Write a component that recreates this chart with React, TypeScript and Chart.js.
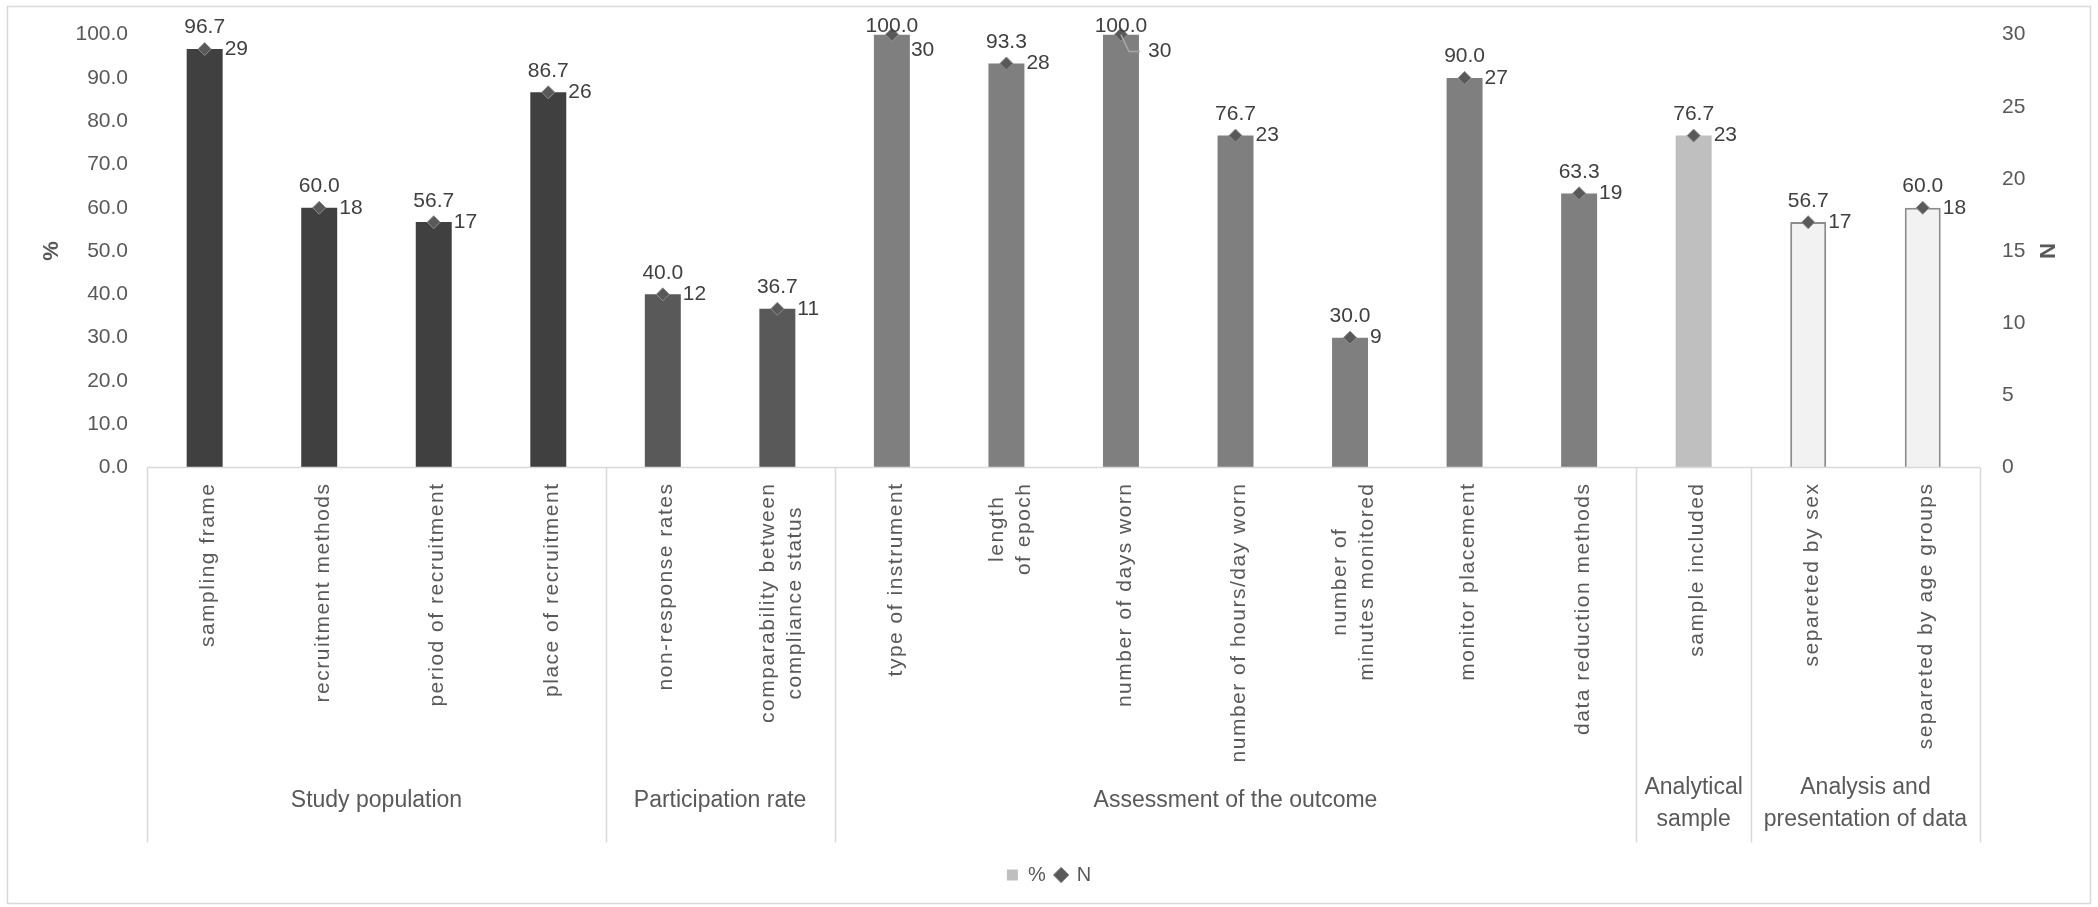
import { useEffect, useRef } from "react";
import { Chart, registerables } from "chart.js";

Chart.register(...registerables);

// ---- data ----
const groups = [
  "Study population",
  "Participation rate",
  "Assessment of the outcome",
  "Analytical\nsample",
  "Analysis and\npresentation of data",
];
const groupSizes = [4, 2, 7, 1, 2];

const categories = [
  "sampling frame",
  "recruitment methods",
  "period of recruitment",
  "place of recruitment",
  "non-response rates",
  "comparability between\ncompliance status",
  "type of instrument",
  "length\nof epoch",
  "number of days worn",
  "number of hours/day worn",
  "number of\nminutes monitored",
  "monitor placement",
  "data reduction methods",
  "sample included",
  "separeted by sex",
  "separeted by age groups",
];

const percentValues = [96.7, 60.0, 56.7, 86.7, 40.0, 36.7, 100.0, 93.3, 100.0, 76.7, 30.0, 90.0, 63.3, 76.7, 56.7, 60.0];
const nValues = [29, 18, 17, 26, 12, 11, 30, 28, 30, 23, 9, 27, 19, 23, 17, 18];

const percentTicks = [0, 10, 20, 30, 40, 50, 60, 70, 80, 90, 100];
const nTicks = [0, 5, 10, 15, 20, 25, 30];

// ---- styling ----
const FONT = "'Liberation Sans', Arial, sans-serif";
const TEXT = "#595959";
const LABEL = "#404040";
const LINE = "#d9d9d9";
const groupFill = ["#404040", "#595959", "#7f7f7f", "#bfbfbf", "#f2f2f2"];
const groupBorder = ["#404040", "#595959", "#7f7f7f", "#bfbfbf", "#8c8c8c"];
const groupBorderWidth = [0, 0, 0, 0, 2];

// group index of every category
const groupOf: number[] = [];
groupSizes.forEach((n, g) => {
  for (let k = 0; k < n; k++) groupOf.push(g);
});

// N labels that sit away from their default spot: [dx, dy, leader line]
const nLabelShift: Record<number, [number, number, boolean]> = {
  6: [19, 16, false],
  8: [27, 17, true],
};

const decorPlugin = {
  id: "decor",
  afterDatasetsDraw(chart: any) {
    const { ctx } = chart;
    const bars = chart.getDatasetMeta(0).data;
    const pts = chart.getDatasetMeta(1).data;
    ctx.save();
    ctx.font = `21px ${FONT}`;
    ctx.fillStyle = LABEL;

    // % labels above bars
    ctx.textAlign = "center";
    ctx.textBaseline = "alphabetic";
    percentValues.forEach((v, i) => {
      const b = bars[i];
      ctx.fillText(v.toFixed(1), b.x, Math.max(b.y - 15.5, 31.5));
    });

    // N labels to the right of the diamonds
    ctx.textAlign = "left";
    ctx.textBaseline = "middle";
    nValues.forEach((v, i) => {
      const p = pts[i];
      const [dx, dy, leader] = nLabelShift[i] ?? [20, 0, false];
      if (leader) {
        ctx.beginPath();
        ctx.strokeStyle = "#a6a6a6";
        ctx.lineWidth = 1.5;
        ctx.moveTo(p.x, p.y);
        ctx.lineTo(p.x + 8, p.y + dy);
        ctx.lineTo(p.x + dx - 8, p.y + dy);
        ctx.stroke();
      }
      ctx.fillText(String(v), p.x + dx, p.y + dy);
    });
    ctx.restore();
  },
  afterDraw(chart: any) {
    const { ctx, chartArea, width, height } = chart;
    const n = categories.length;
    const w = (chartArea.right - chartArea.left) / n;
    const axisY = chartArea.bottom;
    const boxBottom = axisY + 375;

    ctx.save();
    ctx.strokeStyle = LINE;
    ctx.lineWidth = 1.5;

    // category axis line
    ctx.beginPath();
    ctx.moveTo(chartArea.left, axisY);
    ctx.lineTo(chartArea.right, axisY);
    ctx.stroke();

    // group separators
    let k = 0;
    const bounds = [0];
    groupSizes.forEach((s) => {
      k += s;
      bounds.push(k);
    });
    bounds.forEach((b) => {
      const x = Math.round(chartArea.left + b * w) + 0.5;
      ctx.beginPath();
      ctx.moveTo(x, axisY);
      ctx.lineTo(x, boxBottom);
      ctx.stroke();
    });

    // rotated category labels
    ctx.fillStyle = TEXT;
    ctx.font = `21px ${FONT}`;
    (ctx as any).letterSpacing = "1.5px";
    categories.forEach((label, i) => {
      const cx = chartArea.left + (i + 0.5) * w;
      const lines = label.split("\n");
      const maxW = Math.max(...lines.map((l) => ctx.measureText(l).width));
      const cy = axisY + 15 + maxW / 2;
      lines.forEach((line, j) => {
        const bx = cx + 4.3 + (j - (lines.length - 1) / 2) * 27 + 5.35;
        ctx.save();
        ctx.translate(bx, cy);
        ctx.rotate(-Math.PI / 2);
        ctx.textAlign = "center";
        ctx.textBaseline = "alphabetic";
        ctx.fillText(line, 0, 0);
        ctx.restore();
      });
    });
    (ctx as any).letterSpacing = "0px";

    // group labels
    ctx.font = `23px ${FONT}`;
    ctx.textAlign = "center";
    ctx.textBaseline = "middle";
    groups.forEach((g, gi) => {
      const x0 = chartArea.left + bounds[gi] * w;
      const x1 = chartArea.left + bounds[gi + 1] * w;
      const lines = g.split("\n");
      const mid = lines.length > 1 ? axisY + 336 : axisY + 333;
      lines.forEach((line, j) => {
        const y = mid + (j - (lines.length - 1) / 2) * 32;
        ctx.fillText(line, (x0 + x1) / 2, y);
      });
    });

    // chart frame
    ctx.strokeStyle = LINE;
    ctx.lineWidth = 1.5;
    ctx.strokeRect(7.5, 6.5, width - 15, height - 10);
    ctx.restore();
  },
};

export default function App() {
  const ref = useRef<HTMLCanvasElement>(null);

  useEffect(() => {
    if (!ref.current) return;
    Chart.defaults.font.family = FONT;
    Chart.defaults.color = TEXT;

    const chart = new Chart(ref.current, {
      type: "bar",
      data: {
        labels: categories,
        datasets: [
          {
            type: "bar",
            label: "%",
            data: percentValues,
            yAxisID: "y",
            order: 2,
            backgroundColor: groupOf.map((g) => groupFill[g]),
            borderColor: groupOf.map((g) => groupBorder[g]),
            borderWidth: groupOf.map((g) => groupBorderWidth[g]),
            barPercentage: 0.314,
            categoryPercentage: 1,
          },
          {
            type: "line",
            label: "N",
            data: nValues,
            yAxisID: "y2",
            order: 1,
            showLine: false,
            clip: false,
            pointStyle: "rectRot",
            pointRadius: 6.5,
            pointBackgroundColor: "#595959",
            pointBorderColor: "#8c8c8c",
            pointBorderWidth: 1,
          },
        ],
      } as any,
      options: {
        responsive: false,
        animation: false,
        layout: { padding: { top: 34, bottom: 12, left: 0, right: 0 } },
        scales: {
          x: {
            type: "category",
            offset: true,
            grid: { display: false, drawTicks: false },
            border: { display: false },
            ticks: { display: false },
            afterFit: (s: any) => {
              s.height = 387.5;
            },
          },
          y: {
            position: "left",
            min: 0,
            max: 100,
            grid: { display: false, drawTicks: false },
            border: { display: false },
            afterBuildTicks: (s: any) => {
              s.ticks = percentTicks.map((v) => ({ value: v }));
            },
            ticks: {
              padding: 19.4,
              font: { size: 21 },
              color: TEXT,
              callback: (v: any) => Number(v).toFixed(1),
            },
            title: {
              display: true,
              text: "%",
              color: TEXT,
              font: { size: 22, weight: "bold" },
              padding: { top: 38.8, bottom: 0 },
            },
            afterFit: (s: any) => {
              s.width = 147.4;
            },
          },
          y2: {
            position: "right",
            min: 0,
            max: 30,
            grid: { display: false, drawTicks: false },
            border: { display: false },
            afterBuildTicks: (s: any) => {
              s.ticks = nTicks.map((v) => ({ value: v }));
            },
            ticks: {
              padding: 22,
              font: { size: 21 },
              color: TEXT,
              callback: (v: any) => String(v),
            },
            title: {
              display: true,
              text: "N",
              color: TEXT,
              font: { size: 22, weight: "bold" },
              padding: { top: 38.8, bottom: 0 },
            },
            afterFit: (s: any) => {
              s.width = 118;
            },
          },
        },
        plugins: {
          tooltip: { enabled: false },
          legend: {
            display: true,
            position: "bottom",
            labels: {
              usePointStyle: true,
              boxWidth: 11,
              boxHeight: 11,
              padding: 10,
              color: TEXT,
              font: { size: 20 },
              generateLabels: () => [
                {
                  text: "%",
                  fillStyle: "#bfbfbf",
                  strokeStyle: "#bfbfbf",
                  lineWidth: 0,
                  pointStyle: "rect",
                  fontColor: TEXT,
                  hidden: false,
                  datasetIndex: 0,
                },
                {
                  text: "N",
                  fillStyle: "#595959",
                  strokeStyle: "#8c8c8c",
                  lineWidth: 1,
                  pointStyle: "rectRot",
                  fontColor: TEXT,
                  hidden: false,
                  datasetIndex: 1,
                },
              ],
            },
          },
        },
      } as any,
      plugins: [decorPlugin],
    });

    return () => chart.destroy();
  }, []);

  return (
    <div style={{ position: "fixed", left: 0, top: 0, width: 2098, height: 907, background: "#ffffff" }}>
      <canvas ref={ref} width={2098} height={907} />
    </div>
  );
}
